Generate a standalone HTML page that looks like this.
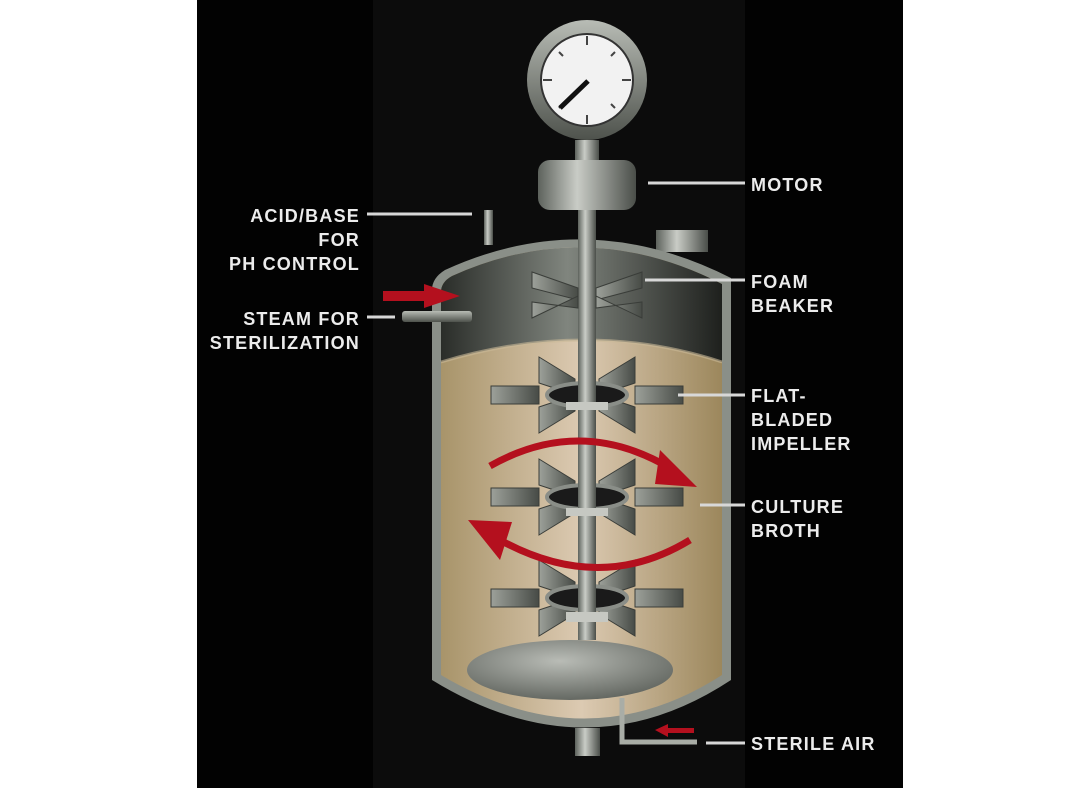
<!DOCTYPE html>
<html><head><meta charset="utf-8"><style>
html,body{margin:0;padding:0;background:#fff;}
svg{display:block}
text{font-family:"Liberation Sans",sans-serif;font-weight:bold;font-size:18px;fill:#ececec;letter-spacing:1.2px}
</style></head><body>
<svg width="1080" height="810" viewBox="0 0 1080 810" xmlns="http://www.w3.org/2000/svg">
<defs>
<linearGradient id="metal" x1="0" x2="1" y1="0" y2="0">
<stop offset="0" stop-color="#5d625c"/><stop offset="0.4" stop-color="#c9ccc6"/><stop offset="1" stop-color="#4a4e49"/>
</linearGradient>
<linearGradient id="metalV" x1="0" x2="0" y1="0" y2="1">
<stop offset="0" stop-color="#b8bcb5"/><stop offset="1" stop-color="#4e524c"/>
</linearGradient>
<linearGradient id="head" x1="0" x2="1">
<stop offset="0" stop-color="#2a2d29"/><stop offset="0.45" stop-color="#80857e"/><stop offset="1" stop-color="#1e201d"/>
</linearGradient>
<linearGradient id="broth" x1="0" x2="1">
<stop offset="0" stop-color="#a8946a"/><stop offset="0.5" stop-color="#dccab2"/><stop offset="1" stop-color="#9c875c"/>
</linearGradient>
<radialGradient id="disk" cx="0.45" cy="0.35" r="0.7">
<stop offset="0" stop-color="#b9bcb6"/><stop offset="1" stop-color="#5e625c"/>
</radialGradient>
<linearGradient id="blade" x1="0" x2="1">
<stop offset="0" stop-color="#9da19a"/><stop offset="1" stop-color="#474b46"/>
</linearGradient>
<g id="imp">
<polygon points="-48,-30 -12,-8 -12,8 -48,-4" fill="url(#blade)" stroke="#3a3d39" transform="translate(0,-8)"/>
<polygon points="48,-30 12,-8 12,8 48,-4" fill="url(#blade)" stroke="#3a3d39" transform="translate(0,-8)"/>
<polygon points="-48,30 -12,8 -12,-8 -48,4" fill="url(#blade)" stroke="#3a3d39" transform="translate(0,8)"/>
<polygon points="48,30 12,8 12,-8 48,4" fill="url(#blade)" stroke="#3a3d39" transform="translate(0,8)"/>
<rect x="-96" y="-9" width="48" height="18" fill="url(#blade)" stroke="#3a3d39"/>
<rect x="48" y="-9" width="48" height="18" fill="url(#blade)" stroke="#3a3d39"/>
<ellipse cx="0" cy="0" rx="40" ry="12" fill="#1a1a1a" stroke="#8a8e88" stroke-width="4"/>
</g>
</defs>
<rect x="197" y="0" width="706" height="788" fill="#020202"/>
<rect x="373" y="0" width="372" height="788" fill="#0c0c0c"/>

<!-- gauge -->
<circle cx="587" cy="80" r="60" fill="url(#metalV)"/>
<circle cx="587" cy="80" r="46" fill="#f2f2f2" stroke="#333" stroke-width="2"/>
<g stroke="#444" stroke-width="2">
<line x1="587" y1="36" x2="587" y2="45"/><line x1="587" y1="115" x2="587" y2="124"/>
<line x1="543" y1="80" x2="552" y2="80"/><line x1="622" y1="80" x2="631" y2="80"/>
<line x1="611" y1="56" x2="615" y2="52"/><line x1="563" y1="104" x2="559" y2="108"/>
<line x1="559" y1="52" x2="563" y2="56"/><line x1="611" y1="104" x2="615" y2="108"/>
</g>
<line x1="560" y1="108" x2="588" y2="81" stroke="#111" stroke-width="5"/>
<rect x="575" y="140" width="24" height="20" fill="url(#metal)"/>
<rect x="538" y="160" width="98" height="50" rx="12" fill="url(#metal)"/>

<!-- pipes top -->
<rect x="484" y="210" width="9" height="35" fill="url(#metal)"/>
<rect x="656" y="230" width="52" height="22" fill="url(#metal)"/>

<!-- vessel outer -->
<path d="M432,290 Q432,278 445,270 Q587,205 731,278 L731,680 Q587,775 432,680 Z" fill="#8a8f88"/>
<path d="M441,292 Q441,282 452,276 Q587,215 722,284 L722,675 Q587,762 441,675 Z" fill="url(#broth)"/>
<path d="M441,292 Q441,282 452,276 Q587,215 722,284 L722,362 Q587,318 441,362 Z" fill="url(#head)"/>
<path d="M441,362 Q587,318 722,362" fill="none" stroke="#c9b998" stroke-width="3" opacity="0.6"/>

<!-- sparger disk -->
<ellipse cx="570" cy="670" rx="103" ry="30" fill="url(#disk)"/>

<!-- shaft -->
<rect x="578" y="210" width="18" height="430" fill="url(#metal)"/>

<!-- foam breaker -->
<polygon points="532,272 578,288 578,300 532,288" fill="url(#blade)" stroke="#3a3d39"/>
<polygon points="642,272 596,288 596,300 642,288" fill="url(#blade)" stroke="#3a3d39"/>
<polygon points="532,318 578,296 578,308 532,302" fill="url(#blade)" stroke="#3a3d39"/>
<polygon points="642,318 596,296 596,308 642,302" fill="url(#blade)" stroke="#3a3d39"/>

<use href="#imp" x="587" y="395"/>
<use href="#imp" x="587" y="497"/>
<use href="#imp" x="587" y="598"/>
<rect x="578" y="380" width="18" height="240" fill="url(#metal)"/>
<rect x="566" y="612" width="42" height="10" fill="#c6c8c2"/>
<rect x="566" y="402" width="42" height="8" fill="#c6c8c2"/>
<rect x="566" y="508" width="42" height="8" fill="#c6c8c2"/>

<!-- circulation arrows -->
<path d="M490,466 Q580,415 670,468" fill="none" stroke="#b4101e" stroke-width="7"/>
<polygon points="660,450 697,487 655,484" fill="#b4101e"/>
<path d="M690,540 Q600,595 500,540" fill="none" stroke="#b4101e" stroke-width="7"/>
<polygon points="468,520 512,522 500,560" fill="#b4101e"/>

<!-- bottom outlet and air -->
<rect x="575" y="728" width="25" height="28" fill="url(#metal)"/>
<path d="M622,698 L622,742 L697,742" fill="none" stroke="#a9ada6" stroke-width="5"/>
<polygon points="655,730 668,724 668,728 694,728 694,733 668,733 668,737" fill="#b4101e"/>

<!-- steam pipe & arrow -->
<rect x="402" y="311" width="70" height="11" rx="3" fill="url(#metalV)"/>
<polygon points="383,291 424,291 424,284 460,296 424,308 424,301 383,301" fill="#b4101e"/>

<!-- label lines -->
<g stroke="#d8d8d8" stroke-width="3">
<line x1="648" y1="183" x2="745" y2="183"/>
<line x1="367" y1="214" x2="472" y2="214"/>
<line x1="367" y1="317" x2="395" y2="317"/>
<line x1="645" y1="280" x2="745" y2="280"/>
<line x1="678" y1="395" x2="745" y2="395"/>
<line x1="700" y1="505" x2="745" y2="505"/>
<line x1="706" y1="743" x2="745" y2="743"/>
</g>

<!-- labels -->
<text x="751" y="191">MOTOR</text>
<text x="751" y="288">FOAM</text>
<text x="751" y="312">BEAKER</text>
<text x="751" y="402">FLAT-</text>
<text x="751" y="426">BLADED</text>
<text x="751" y="450">IMPELLER</text>
<text x="751" y="513">CULTURE</text>
<text x="751" y="537">BROTH</text>
<text x="751" y="750">STERILE AIR</text>
<g text-anchor="end">
<text x="360" y="222">ACID/BASE</text>
<text x="360" y="246">FOR</text>
<text x="360" y="270">PH CONTROL</text>
<text x="360" y="325">STEAM FOR</text>
<text x="360" y="349">STERILIZATION</text>
</g>
</svg>
</body></html>
